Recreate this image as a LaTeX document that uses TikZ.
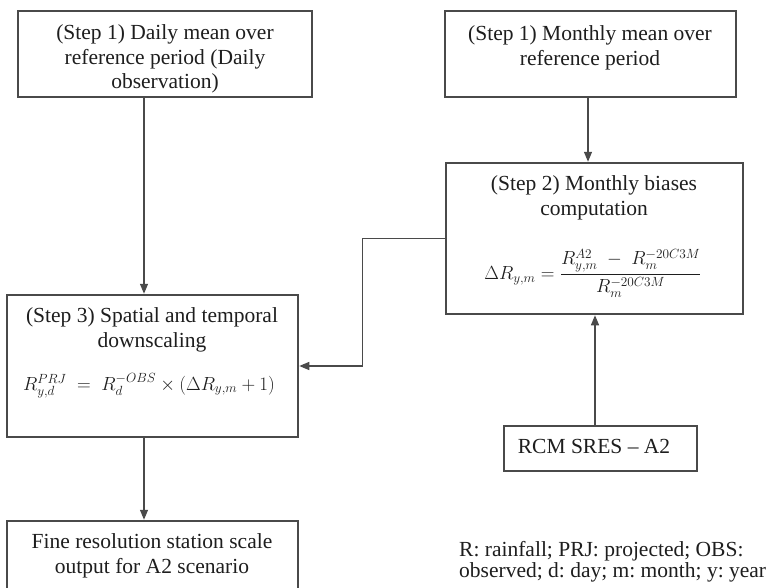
\RequirePackage{fix-cm}
\documentclass[tikz,border=0pt]{standalone}
\usepackage{amsmath}
\usepackage{fontspec}
\setmainfont{Liberation Serif}
\usetikzlibrary{arrows.meta}
\definecolor{edge}{HTML}{4A4A4A}
\definecolor{ink}{HTML}{1E1E1E}
\tikzset{
  box/.style={draw=edge, line width=1.3pt, rectangle, inner sep=0pt, fill=white},
  label/.style={text=ink, align=center, inner sep=0pt,
    font=\fontsize{21.5}{24.5}\selectfont},
  formula/.style={text=ink, inner sep=0pt, font=\fontsize{19}{22}\selectfont},
  flow/.style={draw=edge, line width=1.3pt,
    -{Triangle[length=10pt,width=8pt]}, shorten >=0.6pt}
}
\frenchspacing
\begin{document}
\begin{tikzpicture}[x=1pt,y=-1pt]
\clip (0,0) rectangle (769,587);
\fill[white] (0,0) rectangle (769,587);

% boxes
\node[box, minimum width=294pt, minimum height=86pt] (A) at (165,54) {};
\node[box, minimum width=291pt, minimum height=86pt] (B) at (590.5,54) {};
\node[box, minimum width=291pt, minimum height=142pt] (C) at (152.5,366) {};
\node[box, minimum width=297pt, minimum height=151pt] (D) at (594.5,238.5) {};
\node[box, minimum width=193pt, minimum height=45pt] (E) at (600.5,448.5) {};
\node[box, minimum width=291pt, minimum height=90pt] (F) at (152.5,566) {};

% box texts
\node[label] (tA) at (165,59) {(Step 1) Daily mean over\\reference period (Daily\\observation)};
\node[label] (tB) at (590,48) {(Step 1) Monthly mean over\\reference period};
\node[label] (tC) at (152,330) {(Step 3) Spatial and temporal\\downscaling};
\node[formula, anchor=base] (fC) at (149,390)
  {$R_{y,d}^{PRJ}\;=\;R_{d}^{-OBS}\times(\Delta R_{y,m}+1)$};
\node[label] (tD) at (594,198) {(Step 2) Monthly biases\\computation};
\node[formula] (fD) at (593,273)
  {$\Delta R_{y,m}=\dfrac{R_{y,m}^{A2}\;-\;R_{m}^{-20C3M}}{R_{m}^{-20C3M}}$};
\node[label, anchor=base] (tE) at (594,453) {RCM SRES -- A2};
\node[label] (tF) at (152,556) {Fine resolution station scale\\output for A2 scenario};
\node[label, align=left, anchor=base west] (legend) at (459,577)
  {R: rainfall; PRJ: projected; OBS:\\[-3.5pt]observed; d: day; m: month; y: year};

% connectors
\draw[flow] ([xshift=-21pt]A.south) -- ([xshift=-21pt]A.south |- C.north);
\draw[flow] ([xshift=-2.5pt]B.south) -- ([xshift=-2.5pt]B.south |- D.north);
\draw[flow] ([xshift=-5.5pt]E.north) -- ([xshift=-5.5pt]E.north |- D.south);
\draw[flow] (D.west) -- ++(-83,0) |- (C.east);
\draw[flow] ([xshift=-8.5pt]C.south) -- ([xshift=-8.5pt]C.south |- F.north);
\end{tikzpicture}
\end{document}
